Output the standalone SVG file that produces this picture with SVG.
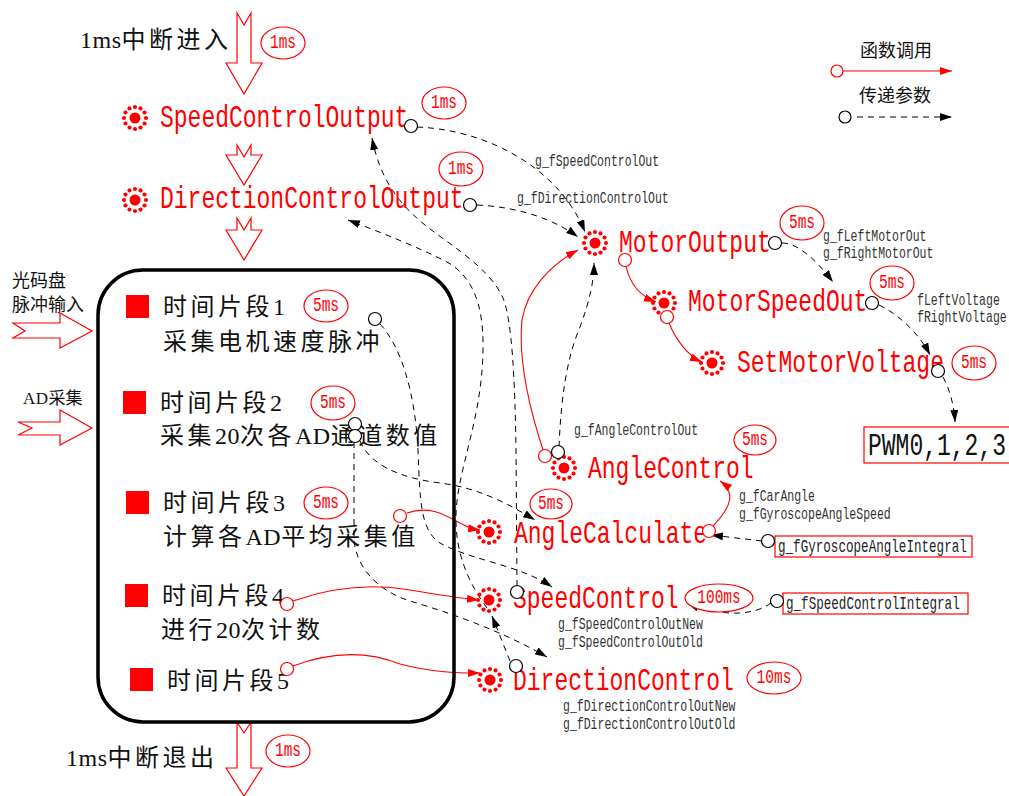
<svg xmlns="http://www.w3.org/2000/svg" width="1009" height="796" viewBox="0 0 1009 796">
<style>
.m{font-family:"Liberation Mono",monospace;}
.nm{font-size:23px;fill:#ff0000;}
.lb{font-size:11.5px;fill:#333;}
.bx{font-size:12.6px;fill:#222;}
.ms{font-size:14.5px;fill:#ff0000;text-anchor:middle;}
.cn{font-family:"Noto Sans CJK SC",sans-serif;fill:#111;}
.big{font-size:24px;letter-spacing:3.5px;}
.sm{font-size:18px;}
.la{font-family:"Liberation Serif",serif;letter-spacing:0.5px;}
.ell{fill:#fff;stroke:#ff0000;stroke-width:1.2;}
.hol{fill:#fff;stroke:#ff0000;stroke-width:1.2;}
.dash{fill:none;stroke:#000;stroke-width:1;stroke-dasharray:6 5;}
.red{fill:none;stroke:#ff0000;stroke-width:1.1;}
.cb{fill:#fff;stroke:#000;stroke-width:1.2;}
.cr{fill:#fff;stroke:#ff0000;stroke-width:1.2;}
.sq{fill:#ff0000;}
</style>
<defs>
<marker id="ab" viewBox="0 0 12 8" refX="12" refY="4" markerWidth="12" markerHeight="8" markerUnits="userSpaceOnUse" orient="auto"><path d="M0,0 L12,4 L0,8 z" fill="#000"/></marker>
<marker id="ar" viewBox="0 0 12 8" refX="12" refY="4" markerWidth="12" markerHeight="8" markerUnits="userSpaceOnUse" orient="auto"><path d="M0,0 L12,4 L0,8 z" fill="#ff0000"/></marker>
<g id="sun">
<circle r="5.5" fill="#ff0000"/>
<g fill="#ff0000">
<circle cx="11" cy="0" r="2.1"/><circle cx="9.53" cy="5.5" r="2.1"/><circle cx="5.5" cy="9.53" r="2.1"/>
<circle cx="0" cy="11" r="2.1"/><circle cx="-5.5" cy="9.53" r="2.1"/><circle cx="-9.53" cy="5.5" r="2.1"/>
<circle cx="-11" cy="0" r="2.1"/><circle cx="-9.53" cy="-5.5" r="2.1"/><circle cx="-5.5" cy="-9.53" r="2.1"/>
<circle cx="0" cy="-11" r="2.1"/><circle cx="5.5" cy="-9.53" r="2.1"/><circle cx="9.53" cy="-5.5" r="2.1"/>
</g>
</g>
</defs>
<rect width="1009" height="796" fill="#fff"/>

<!-- flow arrows and titles -->
<g id="flow">
<text class="cn big" x="80" y="48"><tspan class="la">1ms</tspan>中断进入</text>
<polygon class="hol" points="237,13 244,25 251,13 251,63 262,63 244,94 226,63 237,63"/>
<ellipse class="ell" cx="283" cy="43" rx="22" ry="16"/>
<text class="m ms" transform="translate(283 48) scale(1 1.4)">1ms</text>
<polygon class="hol" points="237,145 244,157 251,145 251,155 262,155 244,185 226,155 237,155"/>
<polygon class="hol" points="237,218 244,230 251,218 251,230 262,230 244,260 226,230 237,230"/>
<polygon class="hol" points="237,722 244,733 251,722 251,768 262,768 244,796 226,768 237,768"/>
<text class="cn big" x="66" y="766"><tspan class="la">1ms</tspan>中断退出</text>
<ellipse class="ell" cx="288" cy="751" rx="22" ry="16"/>
<text class="m ms" transform="translate(288 756) scale(1 1.4)">1ms</text>
</g>

<!-- inputs -->
<g id="inputs">
<text class="cn sm" x="12" y="287" fill="#333">光码盘</text>
<text class="cn sm" x="12" y="311" fill="#333">脉冲输入</text>
<polygon class="hol" points="13,323 60,323 60,313 92,331 60,348 60,338 13,338 25,331"/>
<text class="cn" x="23" y="404" font-size="17" fill="#333"><tspan class="la">AD</tspan>采集</text>
<polygon class="hol" points="18,422 60,422 60,410 92,428 60,445 60,435 18,435 32,428"/>
</g>

<!-- legend -->
<g id="legend">
<text class="cn sm" x="860" y="57" fill="#ff0000">函数调用</text>
<line x1="843" y1="71" x2="952" y2="71" stroke="#ff0000" stroke-width="1.1" marker-end="url(#ar)"/>
<circle class="cr" cx="837" cy="71" r="6"/>
<text class="cn sm" x="859" y="102" fill="#111">传递参数</text>
<line class="dash" x1="857" y1="117" x2="952" y2="117" marker-end="url(#ab)"/>
<circle class="cb" cx="845" cy="117" r="6"/>
</g>

<!-- connectors -->
<g id="connectors">
<path class="dash" d="M417,127 C490,130 560,170 585,232" marker-end="url(#ab)"/>
<path class="dash" d="M477,205 C520,207 555,220 578,237" marker-end="url(#ab)"/>
<path class="dash" d="M517,586 L516,450 C515,380 512,320 503,298 C490,268 450,245 425,225 C400,205 380,180 372,138" marker-end="url(#ab)"/>
<path class="dash" d="M510,661 L492,616" marker-end="url(#ab)"/>
<path class="dash" d="M487,608 C470,585 455,555 456,515 C457,470 482,420 483,350 C484,300 470,275 447,262 C420,248 380,232 348,220" marker-end="url(#ab)"/>
<path class="dash" d="M380,324 C400,345 415,390 418,450 C420,500 420,530 440,543 C470,560 520,565 552,587" marker-end="url(#ab)"/>
<path class="dash" d="M354,442 L354,540 C356,565 375,590 410,601 C450,613 500,630 547,657" marker-end="url(#ab)"/>
<path class="dash" d="M360,441 C370,465 400,478 440,483 C480,488 510,505 535,520" marker-end="url(#ab)"/>
<path class="dash" d="M559,447 C561,400 566,360 580,327 C590,300 594,280 594,263" marker-end="url(#ab)"/>
<path class="dash" d="M782,243 C800,243 820,265 833,282" marker-end="url(#ab)"/>
<path class="dash" d="M879,305 C900,315 920,335 930,355" marker-end="url(#ab)"/>
<path class="dash" d="M943,377 C950,390 954,405 955,422" marker-end="url(#ab)"/>
<path class="dash" d="M762,541 L711,535" marker-end="url(#ab)"/>
<path class="dash" d="M771,603 C755,615 725,618 687,603" marker-end="url(#ab)"/>
<path class="red" d="M543,450 C530,410 518,360 522,320 C527,290 550,265 578,250" marker-end="url(#ar)"/>
<path class="red" d="M626,266 C630,285 640,296 656,302" marker-end="url(#ar)"/>
<path class="red" d="M669,323 C676,340 688,356 702,362" marker-end="url(#ar)"/>
<path class="red" d="M713,526 C733,505 735,492 720,481" marker-end="url(#ar)"/>
<path class="red" d="M407,513 C430,505 445,515 460,523 C467,527 473,529 480,530" marker-end="url(#ar)"/>
<path class="red" d="M293,601 C330,588 370,583 410,590 C440,595 460,598 479,600" marker-end="url(#ar)"/>
<path class="red" d="M293,666 C330,652 365,650 400,664 C430,672 455,673 480,673" marker-end="url(#ar)"/>
</g>

<!-- time slice box -->
<g id="timeslices">
<rect x="98" y="270" width="356" height="452" rx="45" fill="none" stroke="#000" stroke-width="3.5"/>
<rect class="sq" x="126" y="295" width="23" height="23"/>
<text class="cn big" x="163" y="315">时间片段<tspan class="la">1</tspan></text>
<text class="cn big" x="163" y="350">采集电机速度脉冲</text>
<ellipse class="ell" cx="326" cy="306" rx="22" ry="16"/>
<text class="m ms" transform="translate(326 311) scale(1 1.4)">5ms</text>
<circle class="cb" cx="375" cy="319" r="6.5"/>
<rect class="sq" x="123" y="391" width="23" height="23"/>
<text class="cn big" x="160" y="411">时间片段<tspan class="la">2</tspan></text>
<text class="cn big" x="160" y="444">采集<tspan class="la">20</tspan>次各<tspan class="la">AD</tspan>通道数值</text>
<ellipse class="ell" cx="333" cy="403" rx="22" ry="17"/>
<text class="m ms" transform="translate(333 408) scale(1 1.4)">5ms</text>
<circle class="cb" cx="355" cy="424" r="6.5"/>
<circle class="cb" cx="355" cy="436" r="6.5"/>
<rect class="sq" x="126" y="491" width="23" height="23"/>
<text class="cn big" x="163" y="511">时间片段<tspan class="la">3</tspan></text>
<text class="cn big" x="163" y="545">计算各<tspan class="la">AD</tspan>平均采集值</text>
<ellipse class="ell" cx="326" cy="503" rx="22" ry="16"/>
<text class="m ms" transform="translate(326 508) scale(1 1.4)">5ms</text>
<circle class="cr" cx="400" cy="516" r="6.5"/>
<rect class="sq" x="125" y="584" width="23" height="23"/>
<text class="cn big" x="162" y="604">时间片段<tspan class="la">4</tspan></text>
<text class="cn big" x="161" y="638">进行<tspan class="la">20</tspan>次计数</text>
<circle class="cr" cx="287" cy="604" r="6.5"/>
<rect class="sq" x="130" y="668" width="23" height="23"/>
<text class="cn big" x="167" y="689">时间片段<tspan class="la">5</tspan></text>
<circle class="cr" cx="287" cy="669" r="6.5"/>
</g>

<g id="SpeedControlOutput">
<use href="#sun" x="135" y="118"/>
<text class="m nm" transform="translate(160 127) scale(1 1.4)">SpeedControlOutput</text>
<circle class="cb" cx="411" cy="126" r="6.5"/>
<ellipse class="ell" cx="444" cy="103" rx="22" ry="16"/>
<text class="m ms" transform="translate(444 108) scale(1 1.4)">1ms</text>
</g>
<g id="DirectionControlOutput">
<use href="#sun" x="135" y="200"/>
<text class="m nm" transform="translate(160 208) scale(1 1.4)">DirectionControlOutput</text>
<circle class="cb" cx="470" cy="205" r="6.5"/>
<ellipse class="ell" cx="461" cy="169" rx="22" ry="17"/>
<text class="m ms" transform="translate(461 174) scale(1 1.4)">1ms</text>
<text class="m lb" transform="translate(535 166) scale(1 1.4)">g_fSpeedControlOut</text>
<text class="m lb" transform="translate(517 203) scale(1 1.4)">g_fDirectionControlOut</text>
</g>
<g id="MotorOutput">
<use href="#sun" x="595" y="243"/>
<text class="m nm" transform="translate(619 252) scale(1 1.4)">MotorOutput</text>
<circle class="cb" cx="775" cy="243" r="6.5"/>
<circle class="cr" cx="625" cy="260" r="6.5"/>
<ellipse class="ell" cx="802" cy="223" rx="22" ry="17"/>
<text class="m ms" transform="translate(802 228) scale(1 1.4)">5ms</text>
<text class="m lb" transform="translate(823 241) scale(1 1.4)">g_fLeftMotorOut</text>
<text class="m lb" transform="translate(823 258) scale(1 1.4)">g_fRightMotorOut</text>
</g>
<g id="MotorSpeedOut">
<use href="#sun" x="664" y="303"/>
<text class="m nm" transform="translate(688 311) scale(1 1.4)">MotorSpeedOut</text>
<circle class="cb" cx="872" cy="303" r="6.5"/>
<circle class="cr" cx="667" cy="317" r="6.5"/>
<ellipse class="ell" cx="892" cy="283" rx="22" ry="17"/>
<text class="m ms" transform="translate(892 288) scale(1 1.4)">5ms</text>
<text class="m lb" transform="translate(917 305) scale(1 1.4)">fLeftVoltage</text>
<text class="m lb" transform="translate(917 322) scale(1 1.4)">fRightVoltage</text>
</g>
<g id="SetMotorVoltage">
<use href="#sun" x="712" y="363"/>
<text class="m nm" transform="translate(737 372) scale(1 1.4)">SetMotorVoltage</text>
<circle class="cb" cx="938" cy="371" r="6.5"/>
<ellipse class="ell" cx="974" cy="363" rx="22" ry="17"/>
<text class="m ms" transform="translate(974 368) scale(1 1.4)">5ms</text>
</g>
<g id="PWM">
<rect x="864" y="427" width="150" height="36" fill="#fff" stroke="#ff0000" stroke-width="1.2"/>
<text class="m" font-size="23" fill="#111" transform="translate(868 455) scale(1 1.4)">PWM0,1,2,3</text>
</g>
<g id="AngleControl">
<use href="#sun" x="564" y="468"/>
<text class="m nm" transform="translate(588 478) scale(1 1.4)">AngleControl</text>
<circle class="cr" cx="545" cy="456" r="6.5"/>
<circle class="cb" cx="558" cy="452" r="6.5"/>
<ellipse class="ell" cx="755" cy="440" rx="21" ry="15"/>
<text class="m ms" transform="translate(755 445) scale(1 1.4)">5ms</text>
<text class="m lb" transform="translate(574 435) scale(1 1.4)">g_fAngleControlOut</text>
</g>
<g id="AngleCalculate">
<use href="#sun" x="489" y="532"/>
<text class="m nm" transform="translate(514 543) scale(1 1.4)">AngleCalculate</text>
<circle class="cr" cx="709" cy="531" r="6.5"/>
<ellipse class="ell" cx="551" cy="504" rx="21" ry="15"/>
<text class="m ms" transform="translate(551 509) scale(1 1.4)">5ms</text>
<text class="m lb" transform="translate(739 501) scale(1 1.4)">g_fCarAngle</text>
<text class="m lb" transform="translate(739 519) scale(1 1.4)">g_fGyroscopeAngleSpeed</text>
</g>
<g id="GyroscopeAngleIntegral">
<rect x="775" y="536" width="197" height="21" fill="#fff" stroke="#ff0000" stroke-width="1.2"/>
<text class="m bx" transform="translate(778 552) scale(1 1.4)">g_fGyroscopeAngleIntegral</text>
<circle class="cb" cx="768" cy="541" r="6.5"/>
</g>
<g id="SpeedControl">
<use href="#sun" x="489" y="600"/>
<text class="m nm" transform="translate(513 608) scale(1 1.4)">SpeedControl</text>
<circle class="cb" cx="517" cy="592" r="6.5"/>
<ellipse class="ell" cx="719" cy="598" rx="34" ry="14"/>
<text class="m ms" transform="translate(719 603) scale(1 1.4)">100ms</text>
<text class="m lb" transform="translate(558 629) scale(1 1.4)">g_fSpeedControlOutNew</text>
<text class="m lb" transform="translate(558 647) scale(1 1.4)">g_fSpeedControlOutOld</text>
</g>
<g id="SpeedControlIntegral">
<rect x="783" y="593" width="185" height="21" fill="#fff" stroke="#ff0000" stroke-width="1.2"/>
<text class="m bx" transform="translate(786 609) scale(1 1.4)">g_fSpeedControlIntegral</text>
<circle class="cb" cx="777" cy="601" r="6.5"/>
</g>
<g id="DirectionControl">
<use href="#sun" x="490" y="680"/>
<text class="m nm" transform="translate(513 690) scale(1 1.4)">DirectionControl</text>
<circle class="cb" cx="516" cy="666" r="6.5"/>
<ellipse class="ell" cx="774" cy="678" rx="27" ry="16"/>
<text class="m ms" transform="translate(774 683) scale(1 1.4)">10ms</text>
<text class="m lb" transform="translate(563 711) scale(1 1.4)">g_fDirectionControlOutNew</text>
<text class="m lb" transform="translate(563 729) scale(1 1.4)">g_fDirectionControlOutOld</text>
</g>
</svg>
